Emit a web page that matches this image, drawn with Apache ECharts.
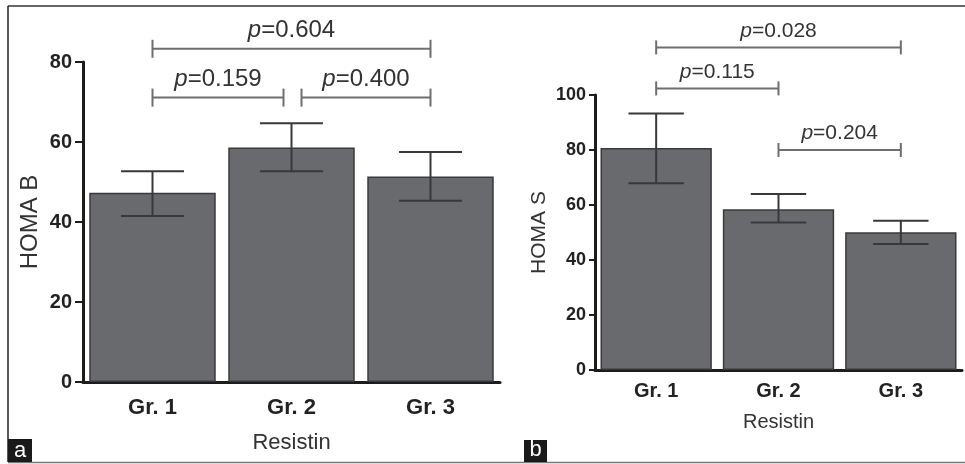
<!DOCTYPE html>
<html>
<head>
<meta charset="utf-8">
<script src="https://cdn.jsdelivr.net/npm/echarts@6/dist/echarts.min.js"></script>
<style>
html, body { margin: 0; padding: 0; background: #fff; }
#chart { width: 965px; height: 464px; }
</style>
</head>
<body>
<div id="chart"></div>
<script>
var categories = ['Gr. 1', 'Gr. 2', 'Gr. 3'];

// panel a, HOMA B
var homaB = [47.3, 58.6, 51.4];
var homaBLow = [41.5, 52.7, 45.3];
var homaBHigh = [52.7, 64.7, 57.5];
var bracketsB = [[0, 2, 83.3], [0, 1, 71.1], [1, 2, 71.1]];
var pLabelsB = ['0.604', '0.159', '0.400'];

// panel b, HOMA S
var homaS = [80.7, 58.5, 50.1];
var homaSLow = [67.9, 53.6, 45.8];
var homaSHigh = [93.3, 64.0, 54.3];
var bracketsS = [[0, 2, 117.3], [0, 1, 102.4], [1, 2, 80]];
var pLabelsS = ['0.028', '0.115', '0.204'];

var SANS = '"Liberation Sans", Arial, Helvetica, sans-serif';
var AXIS = '#1c1c1c';

function errorItem(params, api) {
    var top = api.coord([api.value(0), api.value(2)]);
    var bot = api.coord([api.value(0), api.value(1)]);
    var half = api.size([1, 0])[0] * 0.2265;
    var st = { stroke: '#38383a', lineWidth: 2 };
    return {
        type: 'group',
        children: [
            { type: 'line', shape: { x1: top[0], y1: top[1], x2: bot[0], y2: bot[1] }, style: st },
            { type: 'line', shape: { x1: top[0] - half, y1: top[1], x2: top[0] + half, y2: top[1] }, style: st },
            { type: 'line', shape: { x1: bot[0] - half, y1: bot[1], x2: bot[0] + half, y2: bot[1] }, style: st }
        ]
    };
}

function bracketRenderer(list, labels, tickH, fontSize) {
    return function (params, api) {
        var i1 = api.value(0), i2 = api.value(1), y = api.value(2);
        var p1 = api.coord([i1, y]);
        var p2 = api.coord([i2, y]);
        // leave a gap where two brackets on the same level meet
        var sharedL = false, sharedR = false;
        list.forEach(function (b, k) {
            if (k === params.dataIndex || b[2] !== y) return;
            if (b[1] === i1) sharedL = true;
            if (b[0] === i2) sharedR = true;
        });
        var x1 = p1[0] + (sharedL ? 10 : 0);
        var x2 = p2[0] - (sharedR ? 8 : 0);
        var st = { stroke: '#6e6e70', lineWidth: 2 };
        return {
            type: 'group',
            children: [
                { type: 'line', shape: { x1: x1, y1: p1[1], x2: x2, y2: p1[1] }, style: st },
                { type: 'line', shape: { x1: x1, y1: p1[1] - tickH, x2: x1, y2: p1[1] + tickH }, style: st },
                { type: 'line', shape: { x1: x2, y1: p1[1] - tickH, x2: x2, y2: p1[1] + tickH }, style: st },
                {
                    type: 'text',
                    x: (x1 + x2) / 2,
                    y: p1[1] - 6,
                    style: {
                        text: '{i|p}=' + labels[params.dataIndex],
                        fontFamily: SANS,
                        fontSize: fontSize,
                        fill: '#333',
                        align: 'center',
                        verticalAlign: 'bottom',
                        rich: { i: { fontStyle: 'italic', fontFamily: SANS, fontSize: fontSize, fill: '#333' } }
                    }
                }
            ]
        };
    };
}

function xAxisOf(gi, fs, margin, nameGap, nameFs, tickLen) {
    return {
        gridIndex: gi,
        type: 'category',
        data: categories,
        axisLine: { lineStyle: { color: AXIS, width: 3 } },
        axisTick: { alignWithLabel: true, length: tickLen, lineStyle: { color: AXIS, width: 3 } },
        axisLabel: { fontFamily: SANS, fontWeight: 'bold', fontSize: fs, color: '#222', margin: margin },
        name: 'Resistin',
        nameLocation: 'middle',
        nameGap: nameGap,
        nameTextStyle: { fontFamily: SANS, fontSize: nameFs, color: '#333' }
    };
}

function yAxisOf(gi, max, name, fs, nameGap, nameFs, tickLen) {
    return {
        gridIndex: gi,
        type: 'value',
        min: 0,
        max: max,
        interval: 20,
        splitLine: { show: false },
        axisLine: { show: true, lineStyle: { color: AXIS, width: 3 } },
        axisTick: { show: true, length: tickLen, lineStyle: { color: AXIS, width: 2 } },
        axisLabel: { fontFamily: SANS, fontWeight: 'bold', fontSize: fs, color: '#222', margin: tickLen + 3 },
        name: name,
        nameLocation: 'middle',
        nameRotate: 90,
        nameGap: nameGap,
        nameTextStyle: { fontFamily: SANS, fontSize: nameFs, color: '#333' }
    };
}

var barStyle = { color: '#696a6e', borderColor: '#3a3a3d', borderWidth: 1.5 };

var myChart = echarts.init(document.getElementById('chart'));

option = {
    animation: false,
    backgroundColor: '#fff',
    grid: [
        { left: 83, top: 62, right: 465, bottom: 82 },
        { left: 595, top: 95, right: 3, bottom: 94 }
    ],
    xAxis: [
        xAxisOf(0, 22, 15, 50, 22, 10),
        xAxisOf(1, 20, 11, 42, 20, 8)
    ],
    yAxis: [
        yAxisOf(0, 80, 'HOMA B', 20, 41, 24, 8),
        yAxisOf(1, 100, 'HOMA S', 18, 45, 21, 6)
    ],
    series: [
        {
            type: 'bar', xAxisIndex: 0, yAxisIndex: 0, data: homaB,
            barCategoryGap: '9%', itemStyle: barStyle, z: 2
        },
        {
            type: 'custom', xAxisIndex: 0, yAxisIndex: 0, z: 3,
            renderItem: errorItem,
            encode: { x: 0, y: [1, 2] },
            data: categories.map(function (c, i) { return [i, homaBLow[i], homaBHigh[i]]; })
        },
        {
            type: 'custom', xAxisIndex: 0, yAxisIndex: 0, z: 3,
            renderItem: bracketRenderer(bracketsB, pLabelsB, 9, 24),
            encode: { x: [0, 1], y: 2 },
            data: bracketsB
        },
        {
            type: 'bar', xAxisIndex: 1, yAxisIndex: 1, data: homaS,
            barCategoryGap: '9%', itemStyle: barStyle, z: 2
        },
        {
            type: 'custom', xAxisIndex: 1, yAxisIndex: 1, z: 3,
            renderItem: errorItem,
            encode: { x: 0, y: [1, 2] },
            data: categories.map(function (c, i) { return [i, homaSLow[i], homaSHigh[i]]; })
        },
        {
            type: 'custom', xAxisIndex: 1, yAxisIndex: 1, z: 3,
            renderItem: bracketRenderer(bracketsS, pLabelsS, 7, 21),
            encode: { x: [0, 1], y: 2 },
            data: bracketsS
        }
    ],
    graphic: [
        { type: 'line', shape: { x1: 8, y1: 6, x2: 965, y2: 6 }, style: { stroke: '#333', lineWidth: 1.5 } },
        { type: 'line', shape: { x1: 8, y1: 6, x2: 8, y2: 462 }, style: { stroke: '#222', lineWidth: 1.5 } },
        { type: 'line', shape: { x1: 8, y1: 462.5, x2: 965, y2: 462.5 }, style: { stroke: '#777', lineWidth: 1.5 } },
        { type: 'rect', shape: { x: 8, y: 439, width: 24, height: 23 }, style: { fill: '#1a1a1a' } },
        { type: 'text', x: 20, y: 451, style: { text: 'a', fontFamily: SANS, fontSize: 22, fill: '#fff', align: 'center', verticalAlign: 'middle' } },
        { type: 'rect', shape: { x: 524, y: 440, width: 23, height: 22 }, style: { fill: '#1a1a1a' } },
        { type: 'text', x: 535.5, y: 450, style: { text: 'b', fontFamily: SANS, fontSize: 22, fill: '#fff', align: 'center', verticalAlign: 'middle' } }
    ]
};

myChart.setOption(option);
</script>
</body>
</html>
